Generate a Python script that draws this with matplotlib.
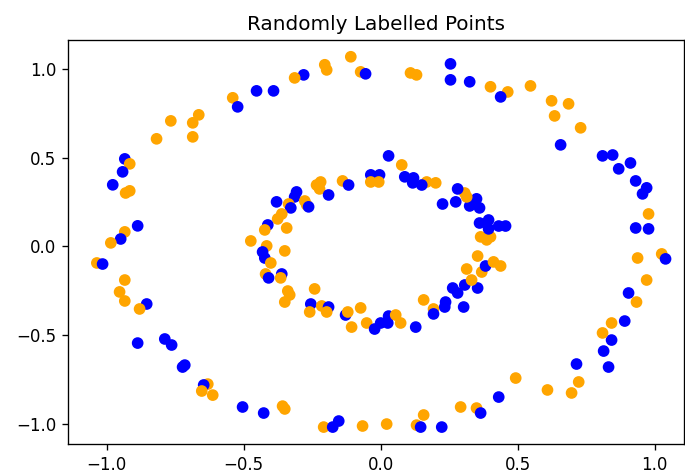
import numpy as np
import matplotlib
matplotlib.use("Agg")
import matplotlib.pyplot as plt

# outer ring points (x, y) and random label: 0 = blue, 1 = orange
outer_x = [-0.453, -0.391, -0.540, -0.522, -0.664, -0.766, -0.686, -0.818, -0.686, -0.934,
           -0.916, -0.942, -0.978, -0.931, -0.916, -0.887, -0.934, -0.949, -0.985, -1.036,
           -1.015, -0.934, -0.953, -0.934, -0.854, -0.880, -0.887, -0.788, -0.763, -0.723,
           -0.715, -0.631, -0.646, -0.653, -0.613, -0.504, -0.427, -0.358, -0.350, -0.208,
           -0.175, -0.153, -0.066, 0.022, 0.131, 0.146, 0.157, 0.223, 0.292, 0.350,
           0.365, 0.431, 0.493, 0.609, 0.697, 0.723, 0.715, 0.832, 0.814, 0.843,
           0.810, 0.843, 0.891, 0.934, 0.905, 0.971, 0.938, 1.026, 1.040, 0.931,
           0.978, 0.978, 0.956, 0.971, 0.931, 0.869, 0.912, 0.810, 0.847, 0.657,
           0.730, 0.635, 0.624, 0.686, 0.547, 0.401, 0.464, 0.438, 0.325, 0.255,
           0.255, 0.109, 0.131, -0.073, -0.055, -0.109, -0.204, -0.197, -0.281, -0.314]
outer_y = [0.876, 0.876, 0.837, 0.786, 0.741, 0.707, 0.696, 0.606, 0.617, 0.493,
           0.465, 0.420, 0.347, 0.301, 0.313, 0.116, 0.082, 0.042, 0.020, -0.093,
           -0.099, -0.189, -0.256, -0.307, -0.324, -0.352, -0.544, -0.521, -0.555, -0.679,
           -0.668, -0.775, -0.780, -0.814, -0.837, -0.904, -0.938, -0.899, -0.915, -1.017,
           -1.017, -0.983, -1.011, -1.000, -1.006, -1.017, -0.949, -1.017, -0.904, -0.910,
           -0.938, -0.848, -0.741, -0.808, -0.825, -0.763, -0.662, -0.679, -0.589, -0.527,
           -0.487, -0.431, -0.420, -0.313, -0.262, -0.189, -0.065, -0.042, -0.070, 0.104,
           0.099, 0.183, 0.296, 0.330, 0.369, 0.437, 0.470, 0.510, 0.515, 0.572,
           0.668, 0.735, 0.820, 0.803, 0.904, 0.899, 0.870, 0.842, 0.927, 0.938,
           1.028, 0.977, 0.966, 0.983, 0.972, 1.068, 1.023, 0.994, 0.966, 0.949]
outer_lab = [0, 0, 1, 0, 1, 1, 1, 1, 1, 0,
             1, 0, 0, 1, 1, 0, 1, 0, 1, 1,
             0, 1, 1, 1, 0, 1, 0, 0, 0, 0,
             0, 1, 0, 1, 1, 0, 0, 1, 1, 1,
             0, 0, 1, 1, 1, 0, 1, 0, 1, 1,
             0, 0, 1, 1, 1, 1, 0, 0, 0, 0,
             1, 1, 0, 1, 0, 1, 1, 1, 0, 0,
             0, 1, 0, 0, 0, 0, 0, 0, 0, 0,
             1, 1, 1, 1, 1, 1, 1, 0, 0, 0,
             0, 1, 1, 1, 0, 1, 1, 1, 0, 1]

# inner ring
inner_x = [0.029, 0.077, -0.036, -0.004, -0.036, -0.007, -0.139, -0.117, -0.234, -0.219,
           -0.223, -0.190, -0.307, -0.314, -0.380, -0.336, -0.328, -0.277, -0.270, -0.263,
           -0.361, -0.376, -0.412, -0.423, -0.343, -0.474, -0.416, -0.431, -0.423, -0.350,
           -0.401, -0.420, -0.409, -0.361, -0.365, -0.241, -0.339, -0.332, -0.350, -0.255,
           -0.259, -0.215, -0.190, -0.197, -0.128, -0.120, -0.073, -0.106, -0.051, -0.022,
           0.000, 0.026, 0.029, 0.055, 0.073, 0.128, 0.157, 0.193, 0.193, 0.234,
           0.237, 0.263, 0.281, 0.307, 0.303, 0.354, 0.332, 0.314, 0.369, 0.354,
           0.383, 0.412, 0.438, 0.365, 0.387, 0.401, 0.361, 0.394, 0.394, 0.431,
           0.456, 0.350, 0.361, 0.325, 0.307, 0.314, 0.281, 0.274, 0.226, 0.168,
           0.201, 0.150, 0.117, 0.088, 0.120]
inner_y = [0.510, 0.459, 0.403, 0.403, 0.363, 0.363, 0.369, 0.346, 0.346, 0.363,
           0.324, 0.290, 0.307, 0.279, 0.251, 0.239, 0.217, 0.256, 0.234, 0.223,
           0.183, 0.155, 0.121, 0.093, 0.104, 0.031, 0.003, -0.031, -0.065, -0.025,
           -0.093, -0.155, -0.177, -0.155, -0.177, -0.239, -0.251, -0.273, -0.313, -0.324,
           -0.369, -0.335, -0.341, -0.369, -0.386, -0.369, -0.346, -0.454, -0.431, -0.465,
           -0.431, -0.431, -0.392, -0.386, -0.431, -0.454, -0.301, -0.352, -0.380, -0.341,
           -0.313, -0.234, -0.262, -0.217, -0.341, -0.234, -0.189, -0.127, -0.144, -0.054,
           -0.110, -0.087, -0.110, 0.054, 0.037, 0.054, 0.132, 0.149, 0.099, 0.115,
           0.115, 0.268, 0.217, 0.228, 0.301, 0.279, 0.324, 0.251, 0.239, 0.363,
           0.358, 0.346, 0.358, 0.392, 0.386]
inner_lab = [0, 1, 0, 0, 1, 1, 1, 0, 1, 1,
             1, 0, 0, 0, 0, 1, 0, 1, 1, 0,
             1, 1, 0, 1, 1, 1, 1, 0, 0, 1,
             1, 1, 0, 0, 1, 1, 1, 1, 1, 0,
             1, 1, 0, 1, 0, 1, 1, 1, 1, 0,
             0, 0, 0, 1, 1, 0, 1, 1, 0, 0,
             0, 0, 0, 0, 0, 0, 1, 1, 1, 1,
             0, 1, 1, 1, 1, 1, 0, 0, 0, 0,
             0, 0, 0, 0, 1, 1, 0, 0, 0, 1,
             1, 0, 0, 0, 0]

colours = np.array(["blue", "orange"])

x = np.array(outer_x + inner_x)
y = np.array(outer_y + inner_y)
lab = np.array(outer_lab + inner_lab)

fig = plt.figure(figsize=(6.85 / 1.2, 4.75 / 1.2), dpi=120)
ax = fig.add_axes([0.099, 0.065, 0.899, 0.851])
ax.scatter(x, y, c=colours[lab], s=36)
ax.set_title("Randomly Labelled Points")
ax.set_xlim(-1.142, 1.106)
ax.set_ylim(-1.113, 1.163)
ax.set_xticks([-1.0, -0.5, 0.0, 0.5, 1.0])
ax.set_yticks([-1.0, -0.5, 0.0, 0.5, 1.0])

fig.savefig("out.png", dpi=120)
